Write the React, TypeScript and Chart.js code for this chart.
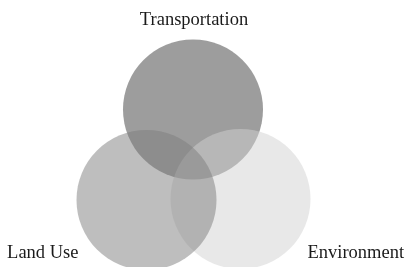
import React, { useEffect, useRef } from "react";
import { Chart, registerables } from "chart.js";

Chart.register(...registerables);

// Venn sets (drawn in this order: later sets lie on top)
const setNames = ["Transportation", "Environment", "Land Use"];
const centerX = [193, 240.5, 146.5];
const centerY = [109.5, 199, 200];
const radius = [70, 70, 70];
const fillColors = [
  "rgba(59,59,59,0.5)",
  "rgba(209,209,209,0.5)",
  "rgba(125,125,125,0.5)",
];

const labelPlugin = {
  id: "vennLabels",
  afterDatasetsDraw(chart: any) {
    const ctx = chart.ctx;
    const meta = chart.getDatasetMeta(0);
    ctx.save();
    ctx.fillStyle = "#1a1a1a";
    ctx.font = "18.5px 'Liberation Serif', serif";
    meta.data.forEach((el: any, i: number) => {
      const r = radius[i];
      const name = setNames[i];
      ctx.textBaseline = "alphabetic";
      if (name === "Transportation") {
        ctx.textAlign = "center";
        ctx.fillText(name, el.x + 1, el.y - r - 15);
      } else if (name === "Land Use") {
        ctx.textAlign = "right";
        ctx.fillText(name, el.x - r + 2, chart.height - 9);
      } else {
        ctx.textAlign = "left";
        ctx.fillText(name, el.x + r - 3, chart.height - 9);
      }
    });
    ctx.restore();
  },
};

export default function App() {
  const ref = useRef<HTMLCanvasElement>(null);
  useEffect(() => {
    document.body.style.margin = "0";
    const chart = new Chart(ref.current!, {
      type: "bubble",
      data: {
        datasets: [
          {
            label: "Sets",
            data: setNames.map((_, i) => ({ x: centerX[i], y: centerY[i], r: radius[i] })),
            backgroundColor: fillColors,
            hoverBackgroundColor: fillColors,
            borderWidth: 0,
            hoverBorderWidth: 0,
            clip: false as any,
          },
        ],
      },
      options: {
        animation: false,
        responsive: false,
        maintainAspectRatio: false,
        layout: { padding: 0, autoPadding: false },
        plugins: { legend: { display: false }, tooltip: { enabled: false } },
        scales: {
          x: { type: "linear", min: 0, max: 412, display: false },
          y: { type: "linear", min: 0, max: 267, reverse: true, display: false },
        },
      },
      plugins: [labelPlugin],
    });
    return () => chart.destroy();
  }, []);
  return (
    <div style={{ width: 412, height: 267 }}>
      <canvas ref={ref} width={412} height={267} style={{ display: "block" }} />
    </div>
  );
}
